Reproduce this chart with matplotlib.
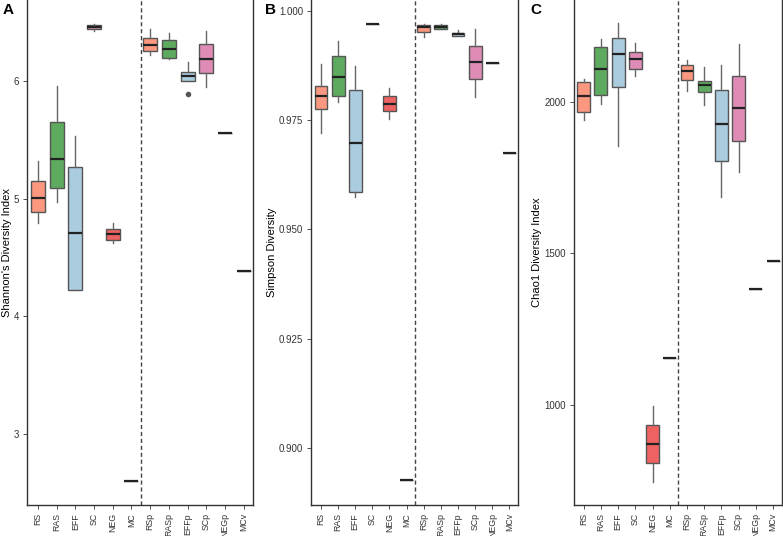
import matplotlib
matplotlib.use("Agg")
import matplotlib.pyplot as plt

plt.rcParams["font.family"] = ["Liberation Sans", "DejaVu Sans"]

groups = ["RS", "RAS", "EFF", "SC", "NEG", "MC",
          "RSp", "RASp", "EFFp", "SCp", "NEGp", "MCv"]
fill_colors = ["#FC9880", "#5EAB5F", "#ABCBDE", "#DE8CB6", "#EF6262", "#FFFFFF",
               "#FC9880", "#5EAB5F", "#ABCBDE", "#DE8CB6", "#FFFFFF", "#FFFFFF"]

# panel A - Shannon
shan_med = [5.01, 5.34, 4.71, 6.46, 4.70, 2.60, 6.31, 6.275, 6.043, 6.19, 5.563, 4.389]
shan_q1 = [4.885, 5.09, 4.227, 6.44, 4.653, 2.60, 6.255, 6.20, 6.00, 6.068, 5.563, 4.389]
shan_q3 = [5.15, 5.65, 5.27, 6.474, 4.743, 2.60, 6.363, 6.35, 6.077, 6.315, 5.563, 4.389]
shan_lo = [4.79, 4.976, 4.22, 6.425, 4.62, 2.60, 6.22, 6.19, 6.00, 5.95, 5.563, 4.389]
shan_hi = [5.32, 5.955, 5.53, 6.49, 4.79, 2.60, 6.44, 6.406, 6.16, 6.43, 5.563, 4.389]
shan_out = {"EFFp": [5.89]}

# panel B - Simpson
simp_med = [0.98044, 0.98492, 0.9697, 0.99703, 0.97875, 0.89268,
            0.9962, 0.99634, 0.99474, 0.98828, 0.98805, 0.96748]
simp_q1 = [0.97754, 0.98058, 0.95864, 0.99703, 0.9770, 0.89268,
           0.99513, 0.99589, 0.99429, 0.98432, 0.98805, 0.96748]
simp_q3 = [0.9827, 0.98958, 0.98181, 0.99703, 0.98051, 0.89268,
           0.99666, 0.99673, 0.99497, 0.99186, 0.98805, 0.96748]
simp_lo = [0.97212, 0.97907, 0.95736, 0.99703, 0.97532, 0.89268,
           0.9941, 0.99589, 0.99429, 0.98035, 0.98805, 0.96748]
simp_hi = [0.98782, 0.99308, 0.98736, 0.99703, 0.98234, 0.89268,
           0.997, 0.997, 0.99552, 0.99575, 0.98805, 0.96748]

# panel C - Chao1
chao_med = [2021, 2108, 2159, 2142, 871, 1155, 2102, 2055, 1928, 1981, 1383, 1476]
chao_q1 = [1966, 2024, 2051, 2110, 807, 1155, 2074, 2032, 1806, 1872, 1383, 1476]
chao_q3 = [2066, 2182, 2210, 2166, 934, 1155, 2121, 2069, 2039, 2085, 1383, 1476]
chao_lo = [1940, 1994, 1856, 2087, 746, 1155, 2037, 1989, 1685, 1770, 1383, 1476]
chao_hi = [2077, 2209, 2262, 2196, 997, 1155, 2138, 2115, 2122, 2192, 1383, 1476]


def draw_panel(ax, med, q1, q3, lo, hi, outliers, ylim, yticks, yticklabels, ylabel):
    stats = []
    for i, g in enumerate(groups):
        stats.append({"med": med[i], "q1": q1[i], "q3": q3[i],
                      "whislo": lo[i], "whishi": hi[i],
                      "fliers": outliers.get(g, []), "label": g})
    bp = ax.bxp(stats, positions=range(1, 13), widths=0.75, patch_artist=True,
                showcaps=False,
                boxprops=dict(edgecolor="#555555", linewidth=1.0),
                whiskerprops=dict(color="#666666", linewidth=1.0),
                medianprops=dict(color="#222222", linewidth=1.6),
                flierprops=dict(marker="o", markersize=3, markerfacecolor="#555555",
                                markeredgecolor="#555555"))
    for patch, c in zip(bp["boxes"], fill_colors):
        patch.set_facecolor(c)
    ax.axvline(6.5, color="#444444", linestyle=(0, (3, 2)), linewidth=1.0)
    ax.set_xlim(0.42, 12.5)
    ax.set_ylim(*ylim)
    ax.set_yticks(yticks)
    ax.set_yticklabels(yticklabels)
    ax.set_xticks(range(1, 13))
    ax.set_xticklabels(groups, rotation=90)
    ax.tick_params(axis="y", labelsize=7, colors="#333333", length=3, width=0.6, pad=2.5)
    ax.tick_params(axis="x", labelsize=6.3, colors="#333333", length=3, width=0.6, pad=3)
    ax.set_ylabel(ylabel, fontsize=8)
    ax.spines["top"].set_visible(False)
    for s in ["left", "right", "bottom"]:
        ax.spines[s].set_color("#333333")
        ax.spines[s].set_linewidth(1.0)
    return bp


fig = plt.figure(figsize=(7.83, 5.36), dpi=100)

axA = fig.add_axes([27 / 783, 31 / 536, 226 / 783, 505 / 536])
draw_panel(axA, shan_med, shan_q1, shan_q3, shan_lo, shan_hi, shan_out,
           (2.395, 6.69), [3, 4, 5, 6], ["3", "4", "5", "6"],
           "Shannon's Diversity Index")
axA.yaxis.set_label_coords(-0.066, 0.5)

axB = fig.add_axes([311 / 783, 31 / 536, 207 / 783, 505 / 536])
draw_panel(axB, simp_med, simp_q1, simp_q3, simp_lo, simp_hi, {},
           (0.887, 1.00245), [0.900, 0.925, 0.950, 0.975, 1.000],
           ["0.900", "0.925", "0.950", "0.975", "1.000"],
           "Simpson Diversity")
axB.yaxis.set_label_coords(-0.164, 0.5)

axC = fig.add_axes([573.7 / 783, 31 / 536, 208 / 783, 505 / 536])
draw_panel(axC, chao_med, chao_q1, chao_q3, chao_lo, chao_hi, {},
           (668.6, 2337), [1000, 1500, 2000], ["1000", "1500", "2000"],
           "Chao1 Diversity Index")
axC.yaxis.set_label_coords(-0.152, 0.5)

fig.text(3 / 783, 1 - 3 / 536, "A", fontsize=11, fontweight="bold", va="top", ha="left")
fig.text(265 / 783, 1 - 3 / 536, "B", fontsize=11, fontweight="bold", va="top", ha="left")
fig.text(530 / 783, 1 - 3 / 536, "C", fontsize=11, fontweight="bold", va="top", ha="left")

fig.savefig("out.png", dpi=100)
